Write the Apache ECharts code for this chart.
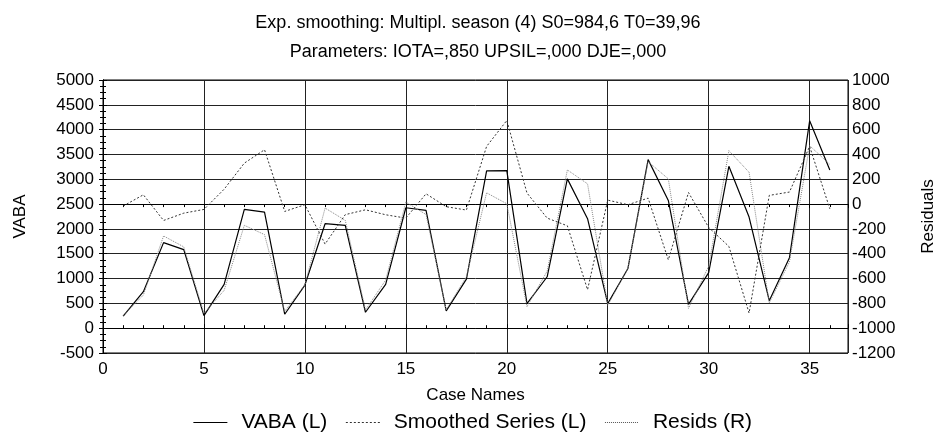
<!DOCTYPE html>
<html>
<head>
<meta charset="utf-8">
<script src="https://cdn.jsdelivr.net/npm/echarts@6/dist/echarts.min.js"></script>
<style>
  html, body { margin: 0; background: #fff; }
  #chart { width: 945px; height: 439px; }
</style>
</head>
<body>
<div id="chart"></div>
<script>
// case numbers 1..36
const cases = [1,2,3,4,5,6,7,8,9,10,11,12,13,14,15,16,17,18,19,20,21,22,23,24,25,26,27,28,29,30,31,32,33,34,35,36];
// VABA (left axis)
const vaba = [241,735,1724,1584,254,882,2393,2339,281,869,2105,2072,321,882,2426,2373,348,989,3168,3175,495,1036,3008,2206,495,1203,3396,2573,481,1120,3262,2239,555,1417,4178,3188];
// Smoothed series (left axis)
const smoothed = [255,668,1858,1638,297,762,2072,1885,340,874,2420,2172,367,968,2540,2290,369,1037,2727,2507,434,1149,3188,2908,463,1208,3355,3008,400,1250,3576,3141,508,1337,3676,3300];
// Residuals (right axis)
const resids = [-16,75,-132,-73,-43,120,330,438,-59,-5,-322,-85,-46,-86,-113,83,-21,-48,465,674,89,-113,-175,-690,32,-5,48,-449,93,-188,-341,-878,70,97,465,-38];

const font = 'Arial, "Liberation Sans", sans-serif';
const pairs = arr => cases.map((c, i) => [c, arr[i]]);
const plain = v => String(v);

const chart = echarts.init(document.getElementById('chart'));
chart.setOption({
  animation: false,
  backgroundColor: '#fff',
  title: {
    text: 'Exp. smoothing: Multipl. season (4) S0=984,6 T0=39,96\nParameters: IOTA=,850 UPSIL=,000 DJE=,000',
    left: 473,
    textAlign: 'center',
    top: 4,
    textStyle: { fontFamily: font, fontSize: 18, fontWeight: 'normal', color: '#000', lineHeight: 29 }
  },
  legend: {
    bottom: 1,
    left: 'center',
    itemWidth: 34,
    itemHeight: 10,
    itemGap: 18,
    itemStyle: { opacity: 0 },
    textStyle: { fontFamily: font, fontSize: 21, color: '#000', padding: [0, 0, 0, 9] },
    data: [
      { name: 'VABA (L)', lineStyle: { color: '#000', width: 1, type: 'solid' } },
      { name: 'Smoothed Series (L)', lineStyle: { color: '#333', width: 1, type: [2, 2] } },
      { name: 'Resids (R)', lineStyle: { color: '#555', width: 1, type: [1, 1] } }
    ]
  },
  grid: {
    left: 103, right: 97, top: 80, bottom: 86,
    show: true, borderColor: '#000', borderWidth: 1
  },
  xAxis: [{
    type: 'value',
    min: 0, max: 36.9, interval: 5,
    name: 'Case Names',
    nameLocation: 'middle',
    nameGap: 34,
    nameTextStyle: { fontFamily: font, fontSize: 17, color: '#000' },
    axisLine: { lineStyle: { color: '#000' } },
    axisTick: { inside: true, length: 4, lineStyle: { color: '#000' } },
    minorTick: { show: true, splitNumber: 5, length: 3, lineStyle: { color: '#000' } },
    axisLabel: { fontFamily: font, fontSize: 17, color: '#000', margin: 8, showMaxLabel: false, formatter: plain },
    splitLine: { show: true, lineStyle: { color: '#222', width: 1 } }
  }, {
    type: 'value',
    position: 'top',
    min: 0, max: 36.9, interval: 5,
    axisLine: { lineStyle: { color: '#000' } },
    axisTick: { inside: true, length: 4, lineStyle: { color: '#000' } },
    minorTick: { show: true, splitNumber: 5, length: 3, lineStyle: { color: '#000' } },
    axisLabel: { show: false },
    splitLine: { show: false }
  }],
  yAxis: [{
    type: 'value',
    min: -500, max: 5000, interval: 500,
    name: 'VABA',
    nameLocation: 'middle',
    nameGap: 74,
    nameTextStyle: { fontFamily: font, fontSize: 17, color: '#000' },
    axisLine: { show: true, lineStyle: { color: '#000' } },
    axisTick: { show: true, inside: true, length: 4, lineStyle: { color: '#000' } },
    minorTick: { show: true, splitNumber: 4, length: 3, lineStyle: { color: '#000' } },
    axisLabel: { fontFamily: font, fontSize: 17, color: '#000', margin: 9, formatter: plain },
    splitLine: { show: true, lineStyle: { color: '#222', width: 1 } }
  }, {
    type: 'value',
    min: -1200, max: 1000, interval: 200,
    name: 'Residuals',
    nameLocation: 'middle',
    nameGap: 72,
    nameRotate: 90,
    nameTextStyle: { fontFamily: font, fontSize: 17, color: '#000' },
    axisLine: { show: true, lineStyle: { color: '#000' } },
    axisTick: { show: true, inside: true, length: 4, lineStyle: { color: '#000' } },
    minorTick: { show: true, splitNumber: 4, length: 3, lineStyle: { color: '#000' } },
    axisLabel: { fontFamily: font, fontSize: 17, color: '#000', margin: 4, formatter: plain },
    splitLine: { show: false }
  }],
  series: [{
    name: 'VABA (L)',
    type: 'line',
    data: pairs(vaba),
    symbol: 'none',
    color: '#000',
    lineStyle: { color: '#000', width: 1.2, type: 'solid' }
  }, {
    name: 'Smoothed Series (L)',
    type: 'line',
    data: pairs(smoothed),
    symbol: 'none',
    color: '#888',
    lineStyle: { color: '#888', width: 1, type: [1, 1] }
  }, {
    name: 'Resids (R)',
    type: 'line',
    yAxisIndex: 1,
    data: pairs(resids),
    symbol: 'none',
    color: '#333',
    lineStyle: { color: '#333', width: 1, type: [2, 2] }
  }]
});
</script>
</body>
</html>
